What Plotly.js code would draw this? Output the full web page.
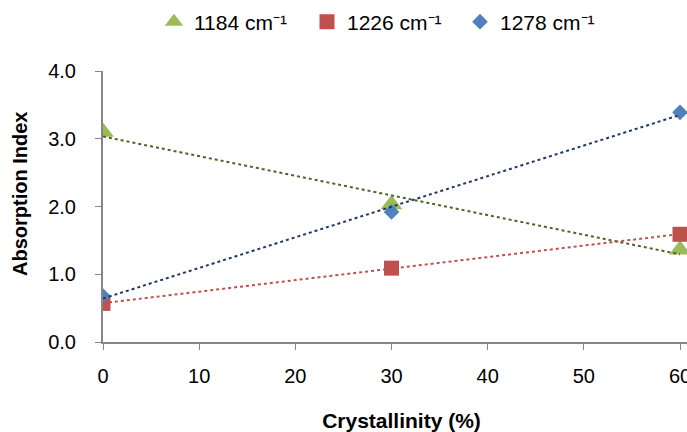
<!DOCTYPE html>
<html>
<head>
<meta charset="utf-8">
<script src="https://cdn.plot.ly/plotly-3.0.1.min.js"></script>
<style>
  html, body { margin: 0; padding: 0; overflow: hidden; background: #fff; }
  #chart { width: 720px; height: 432px; }
</style>
</head>
<body>
<div id="chart"></div>
<script>
// Crystallinity (%) of the samples
const crystallinity = [0, 30, 60];

// Absorption index per band
const band1184 = [3.1, 2.03, 1.36];
const band1226 = [0.57, 1.09, 1.59];
const band1278 = [0.68, 1.92, 3.39];

const seriesNames = ['1184 cm\u207B\u00B9', '1226 cm\u207B\u00B9', '1278 cm\u207B\u00B9'];

// Least-squares linear fit, evaluated over the x extent of the data
function linearTrend(xs, ys) {
  const n = xs.length;
  const mx = xs.reduce((a, b) => a + b, 0) / n;
  const my = ys.reduce((a, b) => a + b, 0) / n;
  let sxy = 0, sxx = 0;
  for (let i = 0; i < n; i++) {
    sxy += (xs[i] - mx) * (ys[i] - my);
    sxx += (xs[i] - mx) * (xs[i] - mx);
  }
  const slope = sxy / sxx;
  const intercept = my - slope * mx;
  const x0 = Math.min(...xs), x1 = Math.max(...xs);
  return { x: [x0, x1], y: [intercept + slope * x0, intercept + slope * x1] };
}

const styles = [
  { data: band1184, symbol: 'triangle-up', size: 19, color: '#9BBB59', trend: '#4F6228' },
  { data: band1226, symbol: 'square', size: 15, color: '#C0504D', trend: '#C0504D' },
  { data: band1278, symbol: 'diamond', size: 12, color: '#4F81BD', trend: '#1F3864' }
];

const traces = [];
styles.forEach((s, i) => {
  traces.push({
    x: crystallinity, y: s.data, name: seriesNames[i],
    type: 'scatter', mode: 'markers',
    marker: { symbol: s.symbol, size: s.size, color: s.color, line: { width: 0 } }
  });
});
styles.forEach((s) => {
  const t = linearTrend(crystallinity, s.data);
  traces.push({
    x: t.x, y: t.y, type: 'scatter', mode: 'lines', showlegend: false, hoverinfo: 'skip',
    line: { color: s.trend, width: 2, dash: 'dot' }
  });
});

const axisColor = '#868686';
const layout = {
  width: 720, height: 432, autosize: false,
  margin: { l: 103, r: 20, t: 71, b: 90 },
  paper_bgcolor: '#fff', plot_bgcolor: '#fff',
  font: { family: 'Liberation Sans, Arial, sans-serif', size: 20, color: '#000' },
  showlegend: true,
  legend: {
    orientation: 'h', xref: 'container', yref: 'container',
    x: 154 / 720, xanchor: 'left', y: 1 - 22 / 432, yanchor: 'middle',
    font: { size: 21 }, entrywidth: 108, itemwidth: 30, tracegroupgap: 0
  },
  xaxis: {
    range: [0, 62.08], tickvals: [0, 10, 20, 30, 40, 50, 60],
    showgrid: false, zeroline: false, showline: true, linecolor: axisColor, linewidth: 2,
    ticks: 'outside', ticklen: 6, tickwidth: 1, tickcolor: axisColor, ticklabelstandoff: 9,
    title: { text: '<b>Crystallinity (%)</b>', font: { size: 21 }, standoff: 29 }
  },
  yaxis: {
    range: [0, 4], dtick: 1, tickformat: '.1f',
    showgrid: false, zeroline: false, showline: true, linecolor: axisColor, linewidth: 2,
    ticks: 'outside', ticklen: 6, tickwidth: 1, tickcolor: axisColor, ticklabelstandoff: 15
  },
  annotations: [{
    text: '<b>Absorption Index</b>', textangle: -90, showarrow: false,
    xref: 'paper', yref: 'paper', x: (19.5 - 103) / 597, y: (342 - 194.5) / 271,
    xanchor: 'center', yanchor: 'middle', font: { size: 20 }
  }]
};

Plotly.newPlot('chart', traces, layout, { displayModeBar: false, staticPlot: true });
</script>
</body>
</html>
